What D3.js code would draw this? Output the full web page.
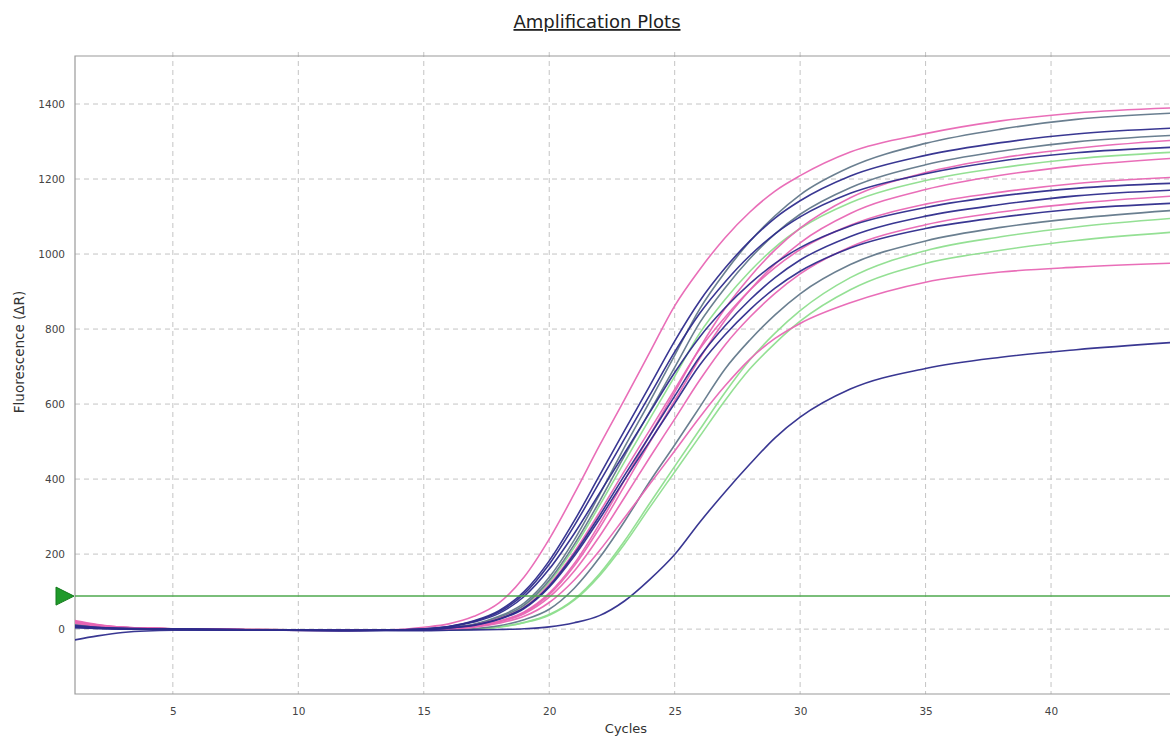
<!DOCTYPE html>
<html>
<head>
<meta charset="utf-8">
<script src="https://cdn.jsdelivr.net/npm/d3@7"></script>
<style>
  body { margin: 0; background: #fff; }
  text { font-family: "DejaVu Sans", Verdana, sans-serif; }
</style>
</head>
<body>
<div id="plot"></div>
<script>
var cycles = [1, 2, 3, 5, 8, 12, 14, 15, 16, 17, 18, 19, 20, 21, 22, 23, 24, 25, 26, 27, 28, 29, 30, 32, 35, 38, 41, 45];

var xTicks = [5, 10, 15, 20, 25, 30, 35, 40];
var yTicks = [0, 200, 400, 600, 800, 1000, 1200, 1400];
var threshold = 88;

var wellColors = ["pink", "gray", "navy", "gray", "pink", "navy", "green", "pink", "pink",
                  "navy", "navy", "pink", "navy", "gray", "green", "green", "pink", "navy"];

var wellValues = [
    [20, 10, 5, 1, -2, -4, -1, 5, 14, 34, 70, 139, 240, 361, 489, 612, 737, 862, 959, 1043, 1112, 1168, 1209, 1272, 1321, 1355, 1376, 1390],
    [14, 7, 3, 0, -2, -3, -3, -2, 4, 13, 34, 69, 138, 238, 358, 485, 606, 730, 854, 951, 1034, 1102, 1158, 1232, 1295, 1333, 1359, 1376],
    [8, 4, 2, 0, -2, -3, -2, 0, 7, 22, 49, 100, 182, 289, 409, 529, 648, 768, 875, 962, 1035, 1096, 1142, 1208, 1263, 1297, 1320, 1336],
    [18, 9, 4, 1, -2, -3, -3, -2, 3, 12, 31, 64, 130, 226, 340, 462, 579, 698, 817, 909, 988, 1054, 1106, 1177, 1238, 1274, 1299, 1317],
    [24, 12, 5, 1, -1, -3, -3, -2, 1, 7, 21, 46, 96, 175, 280, 397, 516, 632, 750, 854, 939, 1011, 1069, 1150, 1217, 1256, 1282, 1304],
    [6, 3, 1, 0, -2, -4, -2, 1, 7, 21, 46, 94, 173, 276, 391, 507, 623, 739, 842, 925, 996, 1054, 1099, 1162, 1214, 1248, 1270, 1285],
    [16, 8, 4, 1, -1, -3, -3, -1, 3, 12, 30, 62, 125, 218, 329, 446, 560, 674, 789, 878, 954, 1018, 1068, 1137, 1196, 1230, 1254, 1272],
    [22, 11, 5, 1, -2, -3, -3, -2, 1, 7, 21, 44, 92, 169, 269, 382, 497, 609, 722, 823, 904, 973, 1030, 1108, 1172, 1210, 1235, 1256],
    [19, 10, 4, 1, -1, -3, -3, -2, 3, 11, 28, 58, 119, 206, 311, 422, 530, 639, 747, 831, 904, 964, 1012, 1077, 1133, 1165, 1188, 1205],
    [5, 2, 1, 0, -2, -4, -2, 0, 6, 19, 42, 87, 160, 255, 362, 469, 577, 684, 779, 856, 921, 975, 1017, 1075, 1124, 1155, 1175, 1189],
    [10, 5, 2, 0, -2, -3, -3, -2, 3, 11, 27, 57, 115, 201, 302, 410, 515, 621, 726, 808, 878, 937, 984, 1047, 1101, 1132, 1155, 1171],
    [21, 10, 4, 1, -2, -3, -3, -2, 0, 6, 19, 41, 85, 155, 247, 351, 457, 560, 664, 757, 832, 895, 947, 1019, 1078, 1112, 1135, 1155],
    [4, 2, 0, -1, -2, -4, -3, -2, 3, 10, 26, 55, 112, 195, 293, 398, 500, 602, 704, 784, 852, 909, 954, 1016, 1068, 1098, 1120, 1136],
    [12, 6, 3, 0, -2, -3, -3, -3, -2, 1, 9, 25, 53, 109, 190, 287, 393, 491, 592, 693, 771, 838, 894, 972, 1035, 1071, 1095, 1117],
    [15, 8, 3, 1, -1, -3, -3, -3, -2, 0, 6, 18, 39, 80, 147, 235, 335, 434, 532, 630, 718, 789, 849, 937, 1009, 1046, 1072, 1096],
    [13, 6, 3, 0, -2, -3, -3, -3, -2, 0, 5, 17, 37, 77, 142, 227, 324, 419, 514, 609, 694, 762, 821, 905, 975, 1010, 1036, 1059],
    [17, 8, 4, 1, -1, -3, -3, -2, 0, 5, 16, 34, 71, 131, 209, 297, 386, 475, 565, 648, 720, 775, 815, 870, 925, 952, 965, 976],
    [-30, -18, -9, -3, -2, -3, -4, -4, -3, -2, -1, 1, 6, 17, 36, 75, 132, 199, 285, 365, 440, 510, 565, 640, 695, 725, 745, 765]
];

var palette = {pink: "#e866b4", gray: "#62788a", navy: "#2e2c8c", green: "#8ede8e"};

var width = 1170;
var height = 738;
var pLeft = 75, pTop = 56, pBottom = 694;

var xScale = d3.scaleLinear().domain([1.1, 45]).range([pLeft, 1176.5]);
var yScale = d3.scaleLinear().domain([-173, 1528]).range([pBottom, pTop]);

var svg = d3.select("#plot").append("svg")
    .attr("width", width)
    .attr("height", height);

svg.append("defs").append("clipPath").attr("id", "clip")
    .append("rect")
    .attr("x", pLeft).attr("y", pTop)
    .attr("width", width - pLeft).attr("height", pBottom - pTop);

// grid
svg.append("g").selectAll("line")
    .data(xTicks).enter().append("line")
    .attr("x1", d => xScale(d)).attr("x2", d => xScale(d))
    .attr("y1", pTop - 4).attr("y2", pBottom)
    .attr("stroke", "#c4c4c4").attr("stroke-dasharray", "5,4");

svg.append("g").selectAll("line")
    .data(yTicks).enter().append("line")
    .attr("x1", pLeft).attr("x2", width)
    .attr("y1", d => yScale(d)).attr("y2", d => yScale(d))
    .attr("stroke", "#c4c4c4").attr("stroke-dasharray", "5,4");

// frame
svg.append("path")
    .attr("d", "M" + width + "," + pTop + "H" + pLeft + "V" + pBottom + "H" + width)
    .attr("fill", "none").attr("stroke", "#9a9a9a").attr("stroke-width", 1.2);

// axes, labels only
var xAxis = d3.axisBottom(xScale).tickValues(xTicks).tickSize(0).tickPadding(14);
var yAxis = d3.axisLeft(yScale).tickValues(yTicks).tickFormat(d3.format("d")).tickSize(0).tickPadding(10);

svg.append("g")
    .attr("transform", "translate(0," + pBottom + ")")
    .call(xAxis)
    .call(g => g.select(".domain").remove())
    .selectAll("text").attr("font-size", 10.5).attr("fill", "#444");

svg.append("g")
    .attr("transform", "translate(" + pLeft + ",0)")
    .call(yAxis)
    .call(g => g.select(".domain").remove())
    .selectAll("text").attr("font-size", 10.5).attr("fill", "#444");

// wells
var line = d3.line()
    .x((d, i) => xScale(cycles[i]))
    .y(d => yScale(d))
    .curve(d3.curveMonotoneX);

var rank = {green: 0, gray: 1, pink: 2, navy: 3};
var order = d3.range(wellValues.length).sort((a, b) => rank[wellColors[a]] - rank[wellColors[b]]);

svg.append("g").attr("clip-path", "url(#clip)")
    .selectAll("path")
    .data(order).enter().append("path")
    .attr("d", i => line(wellValues[i]))
    .attr("fill", "none")
    .attr("stroke", i => palette[wellColors[i]])
    .attr("stroke-width", 1.6)
    .attr("opacity", 0.95);

// threshold
var ty = yScale(threshold);
svg.append("line")
    .attr("x1", pLeft).attr("x2", width)
    .attr("y1", ty).attr("y2", ty)
    .attr("stroke", "#4ea84e").attr("stroke-width", 1.5);

svg.append("path")
    .attr("d", "M" + (pLeft - 19) + "," + (ty - 9) + "L" + (pLeft - 1) + "," + ty + "L" + (pLeft - 19) + "," + (ty + 9) + "Z")
    .attr("fill", "#1f9a2a").attr("stroke", "#137a1c");

// titles
svg.append("text")
    .attr("x", 597).attr("y", 28)
    .attr("text-anchor", "middle")
    .attr("font-size", 18)
    .attr("fill", "#222")
    .attr("text-decoration", "underline")
    .text("Amplification Plots");

svg.append("text")
    .attr("x", 626).attr("y", 733)
    .attr("text-anchor", "middle")
    .attr("font-size", 13)
    .attr("fill", "#333")
    .text("Cycles");

svg.append("text")
    .attr("transform", "translate(24,352) rotate(-90)")
    .attr("text-anchor", "middle")
    .attr("font-size", 13.5)
    .attr("fill", "#333")
    .text("Fluorescence (ΔR)");
</script>
</body>
</html>
